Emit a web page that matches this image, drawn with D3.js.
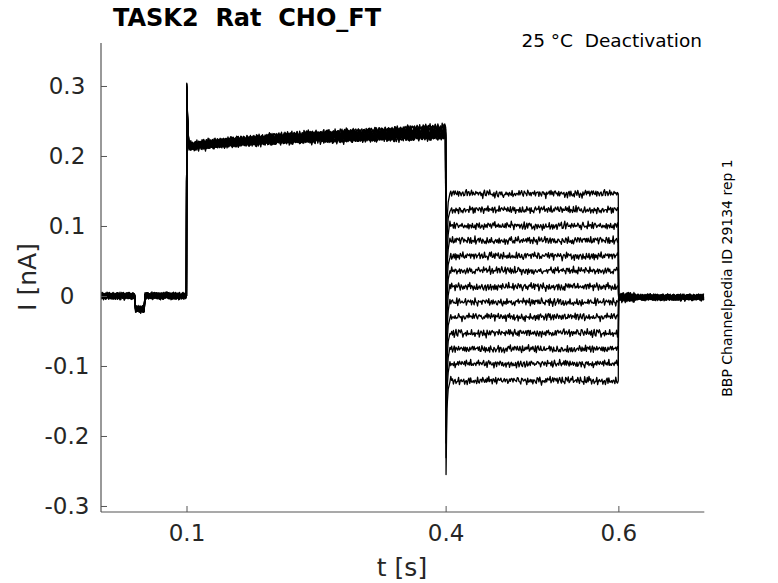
<!DOCTYPE html>
<html><head><meta charset="utf-8">
<script src="https://cdn.jsdelivr.net/npm/d3@7"></script>
<style>
html,body{margin:0;padding:0;background:#fff;}
svg text{font-family:"DejaVu Sans",sans-serif;}
</style></head>
<body>
<svg id="chart" width="778" height="583"></svg>
<script>
// ---- data ----
const xTicks = [0.1, 0.4, 0.6];
const yTicks = [-0.3, -0.2, -0.1, 0, 0.1, 0.2, 0.3];
const xTickLabels = ["0.1", "0.4", "0.6"];
const yTickLabels = ["-0.3", "-0.2", "-0.1", "0", "0.1", "0.2", "0.3"];
// deactivation-step level of each of the 13 sweeps (nA), t = 0.4..0.6 s
const sweepLevels = [0.146, 0.123, 0.100, 0.079, 0.057, 0.036, 0.013, -0.009, -0.030, -0.053, -0.076, -0.097, -0.121];
// per-sweep offset of the activation plateau (nA)
const plateauOffsets = [0.010, 0.002, 0.007, -0.004, 0.005, 0.000, 0.008, -0.002, 0.003, -0.005, 0.001, -0.001, 0.011];
// per-sweep peak of the capacitive spike at t = 0.1 s
const onsetPeaks = [0.304, 0.296, 0.300, 0.288, 0.302, 0.292, 0.298, 0.285, 0.294, 0.290, 0.299, 0.287, 0.303];
// common plateau shape t = 0.103..0.4 s
const plateauTimes = [0.103, 0.15, 0.2, 0.25, 0.3, 0.35, 0.3995];
const plateauValues = [0.213, 0.218, 0.222, 0.225, 0.227, 0.229, 0.231];
// holding / prepulse dip / tail levels
const holdLevel = 0.0;
const dipTimes = [0.0405, 0.0515];
const dipLevel = -0.019;
const tailLevel = -0.002;
// hand-typed noise texture (normalised)
const noise = [0.3,-0.5,0.8,-0.2,0.1,-0.9,0.6,0.2,-0.4,0.7,-0.7,0.0,0.5,-0.3,0.9,-0.6,0.2,-0.1,0.4,-0.8,
0.6,-0.2,-0.5,0.8,0.1,-0.4,0.3,-0.9,0.7,0.0,-0.3,0.5,-0.6,0.9,-0.1,0.2,-0.7,0.4,0.6,-0.5,
0.1,-0.2,0.8,-0.8,0.3,0.5,-0.4,-0.1,0.7,-0.6,0.0,0.4,-0.9,0.2,0.6,-0.3,0.9,-0.5,-0.2,0.3,
-0.7,0.5,0.1,-0.4,0.8,-0.1,-0.6,0.4,0.2,-0.8,0.7,-0.3,0.0,0.6,-0.5,0.3,-0.2,0.9,-0.7,0.1,
0.4,-0.6,0.5,-0.1,-0.3,0.8,-0.9,0.2,0.6,-0.4,0.0,0.7,-0.2,-0.5,0.3,0.9,-0.8,0.1,0.5,-0.3,
-0.1,0.6,-0.7,0.4,0.2,-0.5,0.8,-0.2,0.0,-0.6,0.7,0.3,-0.4,0.1,-0.9,0.5,0.6,-0.1,-0.3,0.4,
0.2,-0.7,0.9,-0.4,0.0,0.3,-0.5,0.7,-0.8,0.1,0.6,-0.2,-0.6,0.5,0.4,-0.3,0.8,-0.1,-0.9,0.2,
0.0,0.5,-0.4,0.7,-0.6,0.3,0.1,-0.2,0.9,-0.5,-0.1,0.6,-0.8,0.4,0.2,-0.3,0.7,-0.7,0.0,0.5];
const noiseAmp = { hold: 0.0065, plateau: 0.0065, deact: 0.0075, tail: 0.007 };
const sampleStep = 0.001;

// ---- layout ----
const svg = d3.select("#chart");
const x = d3.scaleLinear().domain([0.001, 0.6995]).range([101, 704.3]);
const y = d3.scaleLinear().domain([-0.3086, 0.3614]).range([512, 43]);

svg.append("defs").append("clipPath").attr("id","clip")
  .append("rect").attr("x",101).attr("y",43).attr("width",603.3).attr("height",469);

const plateauAt = d3.scaleLinear().domain(plateauTimes).range(plateauValues);

function n(i,k){
  const N = noise.length;
  return noise[(i + 23*k) % N]*0.65 + noise[(3*i + 11*k + 5) % N]*0.35;
}

function sweep(k){
  const pts = [];
  const lvl = sweepLevels[k];
  const off = plateauOffsets[k];
  let i = 0;
  for (let t = 0.001; t <= 0.0995; t += sampleStep, i++){
    const inDip = (t >= dipTimes[0] && t <= dipTimes[1]);
    const base = inDip ? dipLevel : holdLevel;
    pts.push([t, base + n(i,k)*noiseAmp.hold]);
  }
  pts.push([0.0999, holdLevel]);
  pts.push([0.1003, onsetPeaks[k]]);
  pts.push([0.1010, 0.255 + off]);
  pts.push([0.1020, 0.222 + off]);
  for (let t = plateauTimes[0]; t <= 0.3995; t += sampleStep, i++){
    pts.push([t, plateauAt(t) + off*(0.4+ (t-0.1)*2) + n(i,k)*noiseAmp.plateau]);
  }
  pts.push([0.3999, plateauAt(0.3995)+off]);
  pts.push([0.4005, lvl - 0.134]);
  pts.push([0.4015, lvl - 0.04]);
  pts.push([0.4030, lvl - 0.012]);
  for (let t = 0.405; t <= 0.5995; t += sampleStep, i++){
    pts.push([t, lvl + n(i,k)*noiseAmp.deact]);
  }
  pts.push([0.5999, lvl]);
  pts.push([0.6003, tailLevel + 0.004*(6-k)/6]);
  for (let t = 0.601; t <= 0.6995; t += sampleStep, i++){
    pts.push([t, tailLevel + n(i,k)*noiseAmp.tail*(t<0.62?1.2:0.85)]);
  }
  return pts;
}

const line = d3.line().x(d=>x(d[0])).y(d=>y(d[1]));
const g = svg.append("g").attr("clip-path","url(#clip)");
sweepLevels.forEach((_,k)=>{
  g.append("path").attr("d", line(sweep(k)))
   .attr("fill","none").attr("stroke","#000").attr("stroke-width",1.3)
   .attr("stroke-linejoin","round");
});

// ---- axes ----
const axisColor = "#555";
const xAxis = svg.append("g").attr("transform","translate(0,512)")
  .call(d3.axisBottom(x).tickValues(xTicks).tickSize(-6).tickPadding(13)
    .tickFormat((d,i)=>xTickLabels[i]));
const yAxis = svg.append("g").attr("transform","translate(101,0)")
  .call(d3.axisLeft(y).tickValues(yTicks).tickSize(-6).tickPadding(34)
    .tickFormat((d,i)=>yTickLabels[i]));
[xAxis,yAxis].forEach(a=>{
  a.select(".domain").attr("stroke",axisColor).attr("stroke-width",1.2);
  a.selectAll(".tick line").attr("stroke",axisColor).attr("stroke-width",1);
  a.selectAll(".tick text").attr("fill","#262626").attr("font-size",23)
   .attr("font-family","DejaVu Sans");
});
yAxis.selectAll(".tick text").attr("text-anchor","middle");
xAxis.select(".domain").attr("d","M101,0H704.3");
yAxis.select(".domain").attr("d","M0,43V512");

// ---- texts ----
svg.append("text").attr("x",113).attr("y",26).attr("font-size",24).attr("font-weight","bold")
  .attr("fill","#000").style("white-space","pre").text("TASK2  Rat  CHO_FT");
svg.append("text").attr("x",702).attr("y",47).attr("font-size",18.5).attr("text-anchor","end")
  .attr("fill","#000").style("white-space","pre").text("25 °C  Deactivation");
svg.append("text").attr("transform","translate(732,278) rotate(-90)").attr("text-anchor","middle")
  .attr("font-size",14).attr("fill","#000").text("BBP Channelpedia ID 29134 rep 1");
svg.append("text").attr("x",402).attr("y",576).attr("text-anchor","middle").attr("font-size",25)
  .attr("fill","#262626").text("t [s]");
svg.append("text").attr("transform","translate(36,277) rotate(-90)").attr("text-anchor","middle")
  .attr("font-size",25).attr("fill","#262626").text("I [nA]");
</script>
</body></html>
